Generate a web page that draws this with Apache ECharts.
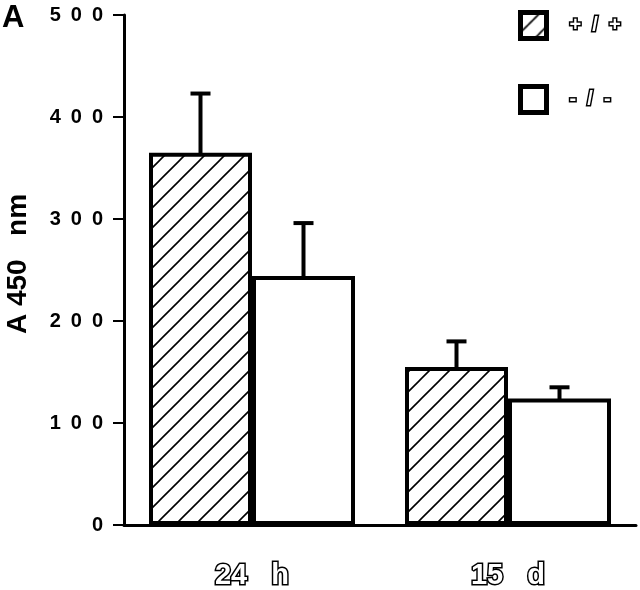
<!DOCTYPE html>
<html>
<head>
<meta charset="utf-8">
<script src="https://cdn.jsdelivr.net/npm/echarts@6/dist/echarts.min.js"></script>
<style>
  html, body { margin: 0; padding: 0; background: #fff; }
  #chart { width: 640px; height: 590px; }
</style>
</head>
<body>
<div id="chart"></div>
<script>
// data
const categories = ['24   h', '15   d']
const seriesNames = ['+/+', '-/-']
const wildType = [365, 155]
const knockOut = [244, 124]
const wildTypeErr = [423, 180]
const knockOutErr = [296, 135]
const yTicks = [0, 100, 200, 300, 400, 500]

const FONT = '"Liberation Sans", Arial, sans-serif'

// diagonal hatch for the +/+ bars
const makeHatch = () => {
  const c = document.createElement('canvas')
  c.width = 20
  c.height = 20
  const ctx = c.getContext('2d')
  ctx.fillStyle = '#fff'
  ctx.fillRect(0, 0, 20, 20)
  ctx.strokeStyle = '#000'
  ctx.lineWidth = 1.6
  ctx.beginPath()
  ctx.moveTo(-2, 22); ctx.lineTo(22, -2)
  ctx.moveTo(-2, 2); ctx.lineTo(2, -2)
  ctx.moveTo(18, 22); ctx.lineTo(22, 18)
  ctx.stroke()
  return c
}

const chart = echarts.init(document.getElementById('chart'))

const errorBars = (values, offset) => ({
  type: 'custom',
  silent: true,
  z: 1,
  data: values.map((v, i) => [i, v]),
  renderItem: (params, api) => {
    const top = api.coord([api.value(0), api.value(1)])
    const x = top[0] + offset
    const y = top[1]
    return {
      type: 'group',
      children: [
        { type: 'line', shape: { x1: x, y1: y, x2: x, y2: y + 60 }, style: { stroke: '#000', lineWidth: 4 } },
        { type: 'line', shape: { x1: x - 10, y1: y, x2: x + 10, y2: y }, style: { stroke: '#000', lineWidth: 4 } }
      ]
    }
  }
})

const option = {
  animation: false,
  backgroundColor: '#fff',
  grid: { left: 124, right: 4, top: 15, bottom: 65, containLabel: false, outerBoundsMode: 'none' },
  legend: {
    orient: 'vertical',
    left: 513,
    top: 5,
    icon: 'rect',
    itemWidth: 26,
    itemHeight: 26,
    itemGap: 43,
    selectedMode: false,
    itemStyle: { borderWidth: 5, borderColor: '#000' },
    formatter: name => name.split('').join('  '),
    textStyle: {
      fontFamily: FONT, fontSize: 20, fontWeight: 'bold',
      color: '#fff', textBorderColor: '#000', textBorderWidth: 3,
      padding: [22, 0, 0, 18]
    },
    data: seriesNames
  },
  graphic: [
    {
      type: 'text', left: 2, top: 3,
      style: { text: 'A', font: 'bold 31px ' + FONT, fill: '#000' }
    }
  ],
  xAxis: {
    type: 'category',
    data: categories,
    axisLine: { lineStyle: { color: '#000', width: 3 } },
    axisTick: { show: false },
    axisLabel: {
      margin: 36,
      fontFamily: FONT, fontSize: 29, fontWeight: 'bold',
      color: '#fff', textBorderColor: '#000', textBorderWidth: 3
    }
  },
  yAxis: {
    type: 'value',
    min: yTicks[0],
    max: yTicks[yTicks.length - 1],
    interval: 100,
    name: 'A 450   nm',
    nameLocation: 'middle',
    nameGap: 92,
    nameTextStyle: {
      fontFamily: FONT, fontSize: 28, fontWeight: 'bold', color: '#000',
      padding: [0, 0, 0, 12]
    },
    splitLine: { show: false },
    axisLine: { show: true, lineStyle: { color: '#000', width: 3 } },
    axisTick: { show: true, length: 11, lineStyle: { color: '#000', width: 2 } },
    axisLabel: {
      margin: 21,
      fontFamily: FONT, fontSize: 20, fontWeight: 'bold', color: '#000',
      formatter: v => String(v).split('').join('\u2002')
    }
  },
  series: [
    {
      name: seriesNames[0],
      type: 'bar',
      barWidth: 103,
      barGap: '0%',
      z: 2,
      data: wildType,
      itemStyle: { color: { image: makeHatch(), repeat: 'repeat' }, borderColor: '#000', borderWidth: 4 }
    },
    {
      name: seriesNames[1],
      type: 'bar',
      barWidth: 103,
      barGap: '0%',
      z: 2,
      data: knockOut,
      itemStyle: { color: '#fff', borderColor: '#000', borderWidth: 4 }
    },
    errorBars(wildTypeErr, -51.5),
    errorBars(knockOutErr, 51.5)
  ]
}

chart.setOption(option)
</script>
</body>
</html>
